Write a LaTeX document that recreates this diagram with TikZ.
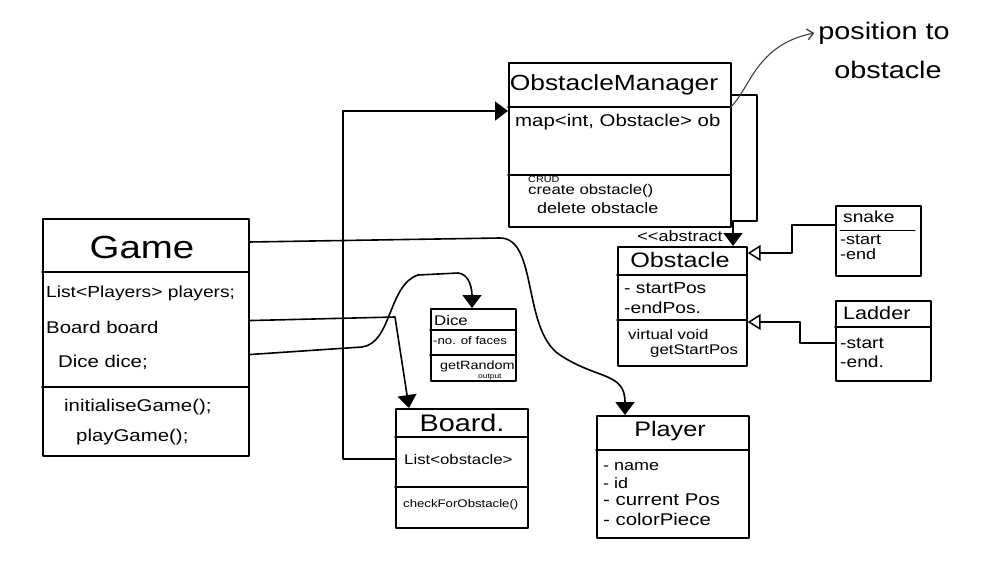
\documentclass[tikz,border=0pt]{standalone}
\usepackage{fontspec}
\setmainfont{Liberation Sans}[FakeStretch=1.2]
\usetikzlibrary{arrows.meta}
\newcommand\fsz[1]{\fontsize{#1}{#1}\selectfont}
\begin{document}
\begin{tikzpicture}[x=1pt,y=-1pt,
  line cap=round, line join=round,
  box/.style={draw, line width=1.7pt, inner sep=0pt, anchor=north west},
  lbl/.style={anchor=west, inner sep=0pt},
  ttl/.style={inner sep=0pt},
  divider/.style={line width=1.6pt},
  link/.style={line width=1.6pt, -{Triangle[length=13pt,width=19pt]}},
  gen/.style={line width=1.6pt, -{Triangle[open,length=13pt,width=16pt,line width=1.5pt]}},
  note/.style={line width=1.1pt, draw=black!75, -{Straight Barb[length=6pt,width=11pt,line width=1.3pt]}}]
\useasboundingbox (0,0) rectangle (998,572);

% ---------- Game ----------
\node[box, minimum width=206pt, minimum height=237pt] (game) at (42,218) {};
\draw[divider] (42,272) -- (248,272);
\draw[divider] (42,387) -- (248,387);
\node[ttl, font=\fsz{32}] (gtitle) at (142,247) {Game};
\node[lbl, font=\fsz{16}] (gplayers) at (46,293) {List<Players> players;};
\node[lbl, font=\fsz{17}] (gboard) at (46,327) {Board board};
\node[lbl, font=\fsz{17}] (gdice) at (58,362) {Dice dice;};
\node[lbl, font=\fsz{17}] (ginit) at (64,407) {initialiseGame();};
\node[lbl, font=\fsz{17}] (gplay) at (76,437) {playGame();};

% ---------- ObstacleManager ----------
\node[box, minimum width=222pt, minimum height=164pt] (om) at (508,62) {};
\draw[divider] (508,107) -- (730,107);
\draw[divider] (508,175) -- (730,175);
\node[ttl, font=\fsz{22}] (omtitle) at (614,85) {ObstacleManager};
\node[lbl, font=\fsz{17}] (ommap) at (515,122) {map<int, Obstacle> ob};
\node[lbl, font=\fsz{9}] (omcrud) at (528,179) {CRUD};
\node[lbl, font=\fsz{14}] (omcreate) at (528,191) {create obstacle()};
\node[lbl, font=\fsz{15}] (omdelete) at (537,208) {delete obstacle};

% ---------- Obstacle ----------
\node[box, minimum width=129pt, minimum height=119pt] (obs) at (617,246) {};
\draw[divider] (617,275) -- (746,275);
\draw[divider] (617,320) -- (746,320);
\node[ttl, font=\fsz{15}] (obsstereo) at (680,236) {<{}<abstract};
\node[ttl, font=\fsz{21}] (obstitle) at (680,260) {Obstacle};
\node[lbl, font=\fsz{16}] (obsstart) at (624,288) {- startPos};
\node[lbl, font=\fsz{16}] (obsend) at (624,308) {-endPos.};
\node[lbl, font=\fsz{14}] (obsvirt) at (628,334) {virtual void};
\node[lbl, font=\fsz{14}] (obsget) at (650,351) {getStartPos};

% ---------- snake ----------
\node[box, minimum width=85pt, minimum height=70pt] (snake) at (835,205) {};
\draw[line width=1pt] (840,230) -- (915,230);
\node[lbl, font=\fsz{16}] (sntitle) at (843,217) {snake};
\node[lbl, font=\fsz{15}] (snstart) at (840,240) {-start};
\node[lbl, font=\fsz{15}] (snend) at (840,254) {-end};

% ---------- Ladder ----------
\node[box, minimum width=95pt, minimum height=80pt] (ladder) at (835,300) {};
\draw[divider] (835,327) -- (930,327);
\node[lbl, font=\fsz{18}] (ldtitle) at (843,313) {Ladder};
\node[lbl, font=\fsz{16}] (ldstart) at (840,343) {-start};
\node[lbl, font=\fsz{16}] (ldend) at (840,362) {-end.};

% ---------- Dice ----------
\node[box, minimum width=85pt, minimum height=72pt] (dice) at (430,308) {};
\draw[divider] (430,330) -- (515,330);
\draw[divider] (430,355) -- (515,355);
\node[lbl, font=\fsz{14}] (dctitle) at (434,320) {Dice};
\node[lbl, font=\fsz{11}] (dcfaces) at (433,341) {-no. of faces};
\node[lbl, font=\fsz{12}] (dcrand) at (440,366) {getRandom};
\node[lbl, font=\fsz{7}] (dcout) at (478,377) {output};

% ---------- Board ----------
\node[box, minimum width=132pt, minimum height=119pt] (board) at (395,408) {};
\draw[divider] (395,437) -- (527,437);
\draw[divider] (395,487) -- (527,487);
\node[ttl, font=\fsz{24}] (bdtitle) at (462,423) {Board.};
\node[lbl, font=\fsz{14}] (bdlist) at (404,459) {List<obstacle>};
\node[lbl, font=\fsz{11}] (bdcheck) at (403,505) {checkForObstacle()};

% ---------- Player ----------
\node[box, minimum width=152pt, minimum height=122pt] (player) at (596,415) {};
\draw[divider] (596,450) -- (748,450);
\node[ttl, font=\fsz{21}] (pltitle) at (670,431) {Player};
\node[lbl, font=\fsz{15}] (plname) at (603,467) {- name};
\node[lbl, font=\fsz{15}] (plid) at (603,483) {- id};
\node[lbl, font=\fsz{17}] (plpos) at (603,500) {- current Pos};
\node[lbl, font=\fsz{17}] (plcolor) at (603,519) {- colorPiece};

% ---------- annotation ----------
\node[ttl, font=\fsz{24}] (notea) at (884,33) {position to};
\node[ttl, font=\fsz{24}] (noteb) at (888,70) {obstacle};

% ---------- helper points ----------
\coordinate (omloop) at (733,221);

% ---------- connectors ----------
% Game -> Player
\draw[link] ([yshift=-24pt]game.north east) -- (500,238)
  .. controls (538,238) and (522,330) .. (560,355)
  .. controls (598,380) and (625,372) .. ([xshift=29pt]player.north west);
% Game -> Board
\draw[link] (game.east |- gboard.north) -- (395,317) -- ([xshift=14pt]board.north west);
% Game -> Dice
\draw[link] (game.east |- gdice.north) -- (362,347)
  .. controls (392,343) and (388,285) .. (418,275) -- (458,273)
  .. controls (470,274) and (472,290) .. ([xshift=42pt]dice.north west);
% Board -> ObstacleManager
\draw[link] (board.west |- bdlist) -- ++(-52,0) |- ([yshift=-49pt]om.north west);
% ObstacleManager -> Obstacle
\draw[link] ([yshift=-33pt]om.north east) -- (757,95) -- (757,221) -- (omloop) -- (obs.north -| omloop);
% snake, Ladder -> Obstacle (inheritance)
\draw[gen] ([yshift=-20pt]snake.north west) -- ++(-43,0) |- ([yshift=-7pt]obs.north east);
\draw[gen] ([yshift=-43pt]ladder.north west) -- ++(-35,0) |- ([yshift=-76pt]obs.north east);
% note arrow
\draw[note] ([xshift=-2pt,yshift=-46pt]om.north east)
  .. controls (750,90) and (755,45) .. ([xshift=-4pt]notea.west);
\end{tikzpicture}
\end{document}
